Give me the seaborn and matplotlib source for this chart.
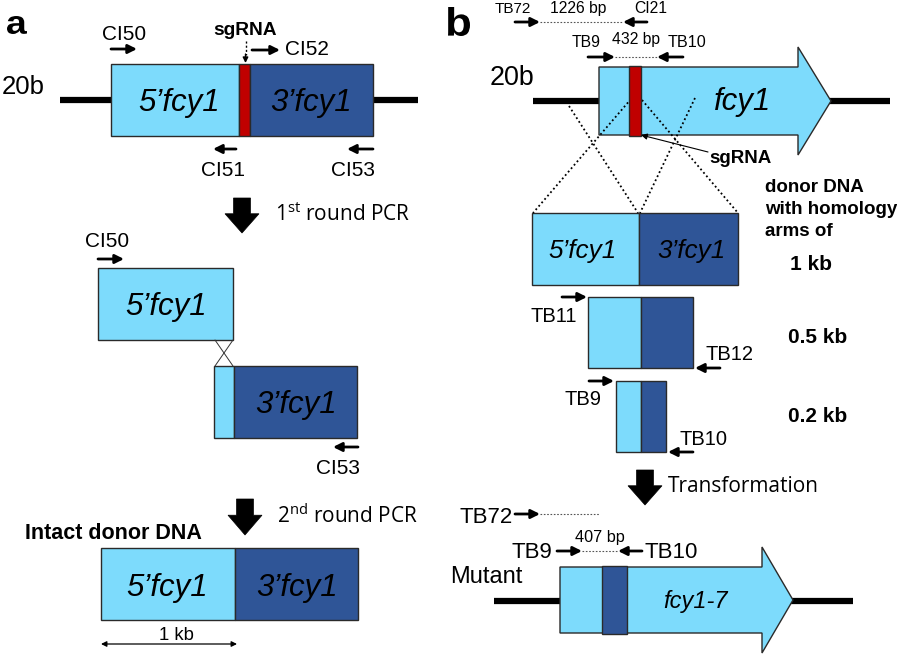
import matplotlib
matplotlib.use("Agg")
import matplotlib.pyplot as plt
from matplotlib.patches import Rectangle, Polygon, PathPatch
from matplotlib.textpath import TextPath
from matplotlib.font_manager import FontProperties
from matplotlib.transforms import Affine2D
import seaborn as sns

# Estilo geral
sns.set_theme(style="white")
plt.rcParams['font.family'] = ['Liberation Sans', 'DejaVu Sans']
plt.rcParams['mathtext.fontset'] = 'custom'
plt.rcParams['mathtext.rm'] = 'Open Sans'

LIGHT = "#7DDBFC"
DARK = "#2F5597"
RED = "#C00000"
EDGE = "#2a2a2a"
colours = {"5'": LIGHT, "3'": DARK, "sg": RED}

# chromosome lines (x0, x1, y)
chrom_lines = [(60, 418, 100), (533, 890, 101), (494, 853, 601)]

# gene segments (kind, x0, y0, x1, y1)
segments = [
    # panel a, 20b locus
    ("5'", 111, 64, 239, 136), ("sg", 239, 64, 250, 136), ("3'", 250, 64, 373, 136),
    # 1st round PCR products
    ("5'", 98, 268, 233, 340),
    ("5'", 214, 366, 234, 438), ("3'", 234, 366, 357, 438),
    # intact donor DNA
    ("5'", 101, 548, 235, 620), ("3'", 235, 548, 358, 620),
    # panel b, donor DNA with 1 / 0.5 / 0.2 kb arms
    ("5'", 532, 213, 639, 285), ("3'", 639, 213, 738, 285),
    ("5'", 588, 297, 641, 368), ("3'", 641, 297, 693, 368),
    ("5'", 616, 381, 641, 452), ("3'", 641, 381, 666, 452),
]

# gene arrows (x0, x1 body end, tip x, y centre, body half height, head half height)
gene_arrows = [(599, 798, 831, 101, 34, 54), (560, 762, 793, 600, 33, 53)]
gene_marks = [("sg", 629, 66, 641, 136), ("3'", 602, 566, 627, 634)]

# primers (x_start, x_end, y) -> arrow points towards x_end
primers = [
    (111, 137, 49), (252, 280, 50), (236, 213, 149), (373, 347, 149),
    (98, 124, 259), (358, 333, 447),
    (515, 540, 22), (647, 623, 22), (588, 615, 57), (683, 657, 57),
    (562, 587, 297), (720, 695, 368), (589, 614, 381), (693, 668, 452),
    (515, 540, 514), (557, 582, 551), (642, 618, 551),
]
# amplicon dotted lines (x0, x1, y)
amplicons = [(540, 623, 22), (615, 657, 57), (540, 600, 514), (582, 618, 551)]

# homology crossover lines (x0, y0, x1, y1)
crossovers = [(569, 106, 638, 213), (631, 99, 533, 213), (642, 100, 738, 213), (695, 98, 640, 213)]
pcr_cross = [(215, 340, 233, 366), (233, 340, 215, 366)]

# block arrows (x centre, y top, y tip)
block_arrows = [(242, 198, 233), (245, 499, 535), (645, 470, 505)]

# panel letters (text, x0, y0, x1, y1 ink box)
panel_letters = [("a", 7, 16, 27, 34), ("b", 448, 7, 470, 36)]

# labels (x, y baseline, text, size, weight, style, ha)
labels = [
    (124, 40, "CI50", 15, "normal", "normal", "center"),
    (245, 35, "sgRNA", 13.8, "bold", "normal", "center"),
    (285, 55, "CI52", 15, "normal", "normal", "left"),
    (2, 94, "20b", 18.5, "normal", "normal", "left"),
    (179, 111, "5’fcy1", 22.5, "normal", "italic", "center"),
    (311, 111, "3’fcy1", 22.5, "normal", "italic", "center"),
    (223, 176, "CI51", 15, "normal", "normal", "center"),
    (353, 176, "CI53", 15, "normal", "normal", "center"),
    (107, 247, "CI50", 15, "normal", "normal", "center"),
    (166, 315, "5’fcy1", 22.5, "normal", "italic", "center"),
    (296, 413, "3’fcy1", 22.5, "normal", "italic", "center"),
    (338, 474, "CI53", 15, "normal", "normal", "center"),
    (25, 539, "Intact donor DNA", 15.5, "bold", "normal", "left"),
    (167, 596, "5’fcy1", 22.5, "normal", "italic", "center"),
    (297, 596, "3’fcy1", 22.5, "normal", "italic", "center"),
    (176, 640, "1 kb", 13.3, "normal", "normal", "center"),
    (495, 13, "TB72", 11, "normal", "normal", "left"),
    (578, 13, "1226 bp", 11.3, "normal", "normal", "center"),
    (651, 13, "CI21", 11.3, "normal", "normal", "center"),
    (586, 47, "TB9", 11.3, "normal", "normal", "center"),
    (636, 44, "432 bp", 11.3, "normal", "normal", "center"),
    (687, 47, "TB10", 11.6, "normal", "normal", "center"),
    (512, 85, "20b", 19.4, "normal", "normal", "center"),
    (743, 110, "fcy1", 22.5, "normal", "italic", "center"),
    (741, 163, "sgRNA", 13.5, "bold", "normal", "center"),
    (765, 192, "donor DNA", 13.5, "bold", "normal", "left"),
    (765, 214, "with homology", 13.5, "bold", "normal", "left"),
    (765, 236, "arms of", 13.5, "bold", "normal", "left"),
    (811, 270, "1 kb", 15, "bold", "normal", "center"),
    (818, 343, "0.5 kb", 15, "bold", "normal", "center"),
    (818, 422, "0.2 kb", 15, "bold", "normal", "center"),
    (583, 258, "5’fcy1", 18.8, "normal", "italic", "center"),
    (692, 258, "3’fcy1", 18.8, "normal", "italic", "center"),
    (554, 322, "TB11", 14.5, "normal", "normal", "center"),
    (729, 360, "TB12", 14.5, "normal", "normal", "center"),
    (583, 405, "TB9", 14.5, "normal", "normal", "center"),
    (704, 445, "TB10", 14.5, "normal", "normal", "center"),
    (486, 523, "TB72", 16, "normal", "normal", "center"),
    (600, 542, "407 bp", 11.7, "normal", "normal", "center"),
    (532, 558, "TB9", 16, "normal", "normal", "center"),
    (671, 558, "TB10", 16, "normal", "normal", "center"),
    (450, 583, "Mutant", 17, "normal", "normal", "left"),
    (695, 608, "fcy1-7", 17, "normal", "italic", "center"),
]
# PCR step captions (x, y baseline, text)
steps = [(275, 221, "1$^{\\mathrm{st}}$ round PCR"),
         (277, 523, "2$^{\\mathrm{nd}}$ round PCR"),
         (668, 492, "Transformation")]

fig = plt.figure(figsize=(8.97, 6.56), dpi=100)
ax = fig.add_axes([0, 0, 1, 1])
ax.set_xlim(0, 897)
ax.set_ylim(656, 0)
ax.axis("off")

for x0, x1, y in chrom_lines:
    ax.plot([x0, x1], [y, y], color="black", lw=4.5, solid_capstyle="butt", zorder=1)

for kind, x0, y0, x1, y1 in segments:
    ax.add_patch(Rectangle((x0, y0), x1 - x0, y1 - y0, facecolor=colours[kind],
                           edgecolor=EDGE, lw=1, zorder=2))

for x0, x1, tip, yc, hb, hh in gene_arrows:
    pts = [(x0, yc - hb), (x1, yc - hb), (x1, yc - hh), (tip, yc),
           (x1, yc + hh), (x1, yc + hb), (x0, yc + hb)]
    ax.add_patch(Polygon(pts, closed=True, facecolor=LIGHT, edgecolor=EDGE, lw=1, zorder=2))

for x0, y0, x1, y1 in crossovers:
    ax.plot([x0, x1], [y0, y1], color="black", lw=1.3, ls=(0, (1, 1.5)), zorder=3)

for kind, x0, y0, x1, y1 in gene_marks:
    ax.add_patch(Rectangle((x0, y0), x1 - x0, y1 - y0, facecolor=colours[kind],
                           edgecolor=EDGE, lw=1, zorder=4))

for x0, y0, x1, y1 in pcr_cross:
    ax.plot([x0, x1], [y0, y1], color="#333333", lw=0.7, zorder=3)

for xs, xe, y in primers:
    ax.annotate("", xy=(xe, y), xytext=(xs, y),
                arrowprops=dict(arrowstyle="-|>", color="black", lw=2,
                                mutation_scale=13, shrinkA=0, shrinkB=0), zorder=5)

for x0, x1, y in amplicons:
    ax.plot([x0, x1], [y, y], color="#555555", lw=0.8, ls=(0, (1.5, 1.5)), zorder=3)

for xc, yt, ytip in block_arrows:
    yh = yt + (ytip - yt) * 0.45
    pts = [(xc - 8.5, yt), (xc + 8.5, yt), (xc + 8.5, yh), (xc + 17, yh),
           (xc, ytip), (xc - 17, yh), (xc - 8.5, yh)]
    ax.add_patch(Polygon(pts, closed=True, facecolor="black", edgecolor="black", lw=0.5, zorder=5))

# sgRNA pointers
ax.plot([245.5, 245.5], [41, 55], color="black", lw=1, ls=(0, (1.5, 1.5)), zorder=5)
ax.annotate("", xy=(245.5, 63), xytext=(245.5, 54),
            arrowprops=dict(arrowstyle="-|>", color="black", lw=1, mutation_scale=8,
                            shrinkA=0, shrinkB=0), zorder=5)
ax.annotate("", xy=(641, 135), xytext=(708, 152),
            arrowprops=dict(arrowstyle="-|>", color="black", lw=0.8, mutation_scale=9,
                            shrinkA=0, shrinkB=0), zorder=5)
# 1 kb scale
ax.annotate("", xy=(237, 644), xytext=(101, 644),
            arrowprops=dict(arrowstyle="<|-|>", color="black", lw=0.9, mutation_scale=8,
                            shrinkA=0, shrinkB=0), zorder=5)

# panel letters: bold glyphs fitted into their ink box
bold = FontProperties(family="Liberation Sans", weight="bold")
for s, x0, y0, x1, y1 in panel_letters:
    tp = TextPath((0, 0), s, size=1, prop=bold)
    ext = tp.get_extents()
    sx = (x1 - x0) / ext.width
    sy = (y1 - y0) / ext.height
    tr = Affine2D().translate(-ext.x0, -ext.y0).scale(sx, -sy).translate(x0, y1)
    ax.add_patch(PathPatch(tr.transform_path(tp), facecolor="black", edgecolor="none", zorder=6))

for x, y, s, size, weight, style, ha in labels:
    ax.text(x, y, s, fontsize=size, fontweight=weight, fontstyle=style,
            ha=ha, va="baseline", color="black", zorder=6)

for x, y, s in steps:
    ax.text(x, y, s, fontsize=15, family="Open Sans", color="black",
            ha="left", va="baseline", zorder=6)

fig.savefig("out.png", dpi=100)
